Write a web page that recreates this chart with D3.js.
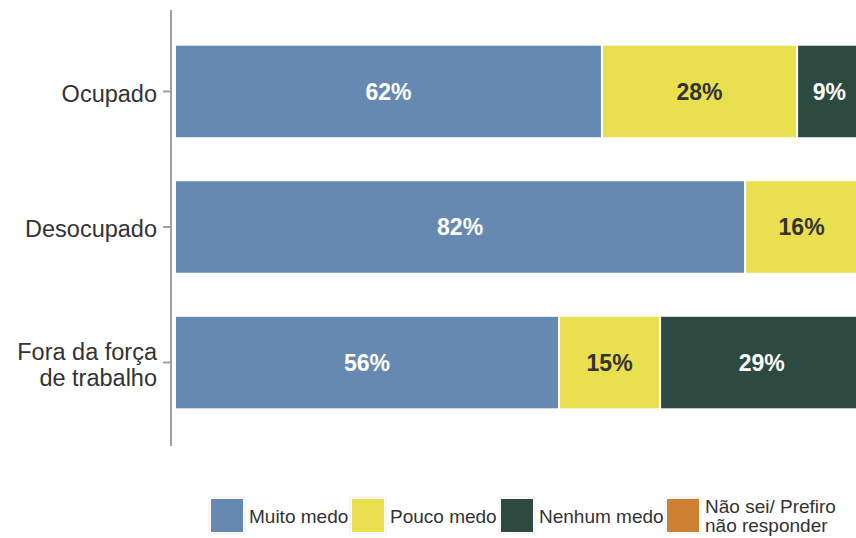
<!DOCTYPE html>
<html>
  <head>
    <meta charset="UTF-8">
    <title>Medo por condição de ocupação</title>
    <style>
      body { margin: 0; background: #fff; font-family: "Liberation Sans", Arial, sans-serif; }
      svg { display: block; }
    </style>
  </head>
  <body>
    <div id="chart"></div>
    <script src="https://d3js.org/d3.v7.min.js"></script>
    <script>

// categories (y axis)
var groups = ["Ocupado", "Desocupado", "Fora da força de trabalho"];
var groupLines = [["Ocupado"], ["Desocupado"], ["Fora da força", "de trabalho"]];

// answer series
var answers = ["Muito medo", "Pouco medo", "Nenhum medo", "Não sei/ Prefiro não responder"];
var answerLines = [["Muito medo"], ["Pouco medo"], ["Nenhum medo"], ["Não sei/ Prefiro", "não responder"]];
var colors = ["#6689b1", "#e9df4f", "#2c4a3f", "#cd7f32"];
var labelColors = ["#ffffff", "#333333", "#ffffff", "#ffffff"];

// shares in %, one array per answer, in the order of groups
var muitoMedo = [61.7, 82.4, 55.5];
var poucoMedo = [28.2, 16.3, 14.6];
var nenhumMedo = [9.3, 0.8, 29.4];
var naoSei = [0.8, 0.5, 0.5];

var series = [muitoMedo, poucoMedo, nenhumMedo, naoSei];

var width = 856, height = 538;

var svg = d3.select("#chart").append("svg")
  .attr("width", width)
  .attr("height", height);

var x = d3.scaleLinear().domain([0, 100]).range([175, 867]);
var y = d3.scaleBand().domain(groups).range([23, 431])
  .paddingInner(0.31).paddingOuter(0.16);

// build stacked rows
var rows = groups.map(function(g, i) {
  var row = { group: g };
  answers.forEach(function(a, j) { row[a] = series[j][i]; });
  return row;
});
var stacked = d3.stack().keys(answers)(rows);

var layer = svg.selectAll(".layer")
  .data(stacked)
  .enter().append("g")
  .attr("class", "layer")
  .attr("fill", function(d, i) { return colors[i]; });

layer.selectAll("rect")
  .data(function(d) { return d; })
  .enter().append("rect")
  .attr("x", function(d) { return x(d[0]); })
  .attr("y", function(d) { return y(d.data.group); })
  .attr("width", function(d) { return Math.max(0, x(d[1]) - x(d[0])); })
  .attr("height", y.bandwidth())
  .attr("stroke", "#fff")
  .attr("stroke-width", 2);

// value labels inside segments
layer.each(function(s, i) {
  d3.select(this).selectAll("text")
    .data(s.filter(function(d) { return d[1] - d[0] >= 3; }))
    .enter().append("text")
    .attr("x", function(d) { return (x(d[0]) + x(d[1])) / 2; })
    .attr("y", function(d) { return y(d.data.group) + y.bandwidth() / 2; })
    .attr("dy", "0.36em")
    .attr("text-anchor", "middle")
    .attr("fill", labelColors[i])
    .style("font-size", "23px")
    .style("font-weight", "bold")
    .text(function(d) { return Math.round(d[1] - d[0]) + "%"; });
});

// y axis
svg.append("line")
  .attr("x1", 171).attr("x2", 171)
  .attr("y1", 10).attr("y2", 446)
  .attr("stroke", "#a0a0a0").attr("stroke-width", 2);

var ticks = svg.selectAll(".tick")
  .data(groups)
  .enter().append("g")
  .attr("class", "tick")
  .attr("transform", function(d) { return "translate(0," + (y(d) + y.bandwidth() / 2) + ")"; });

ticks.append("line")
  .attr("x1", 163).attr("x2", 171)
  .attr("stroke", "#a0a0a0").attr("stroke-width", 2);

ticks.append("text")
  .attr("text-anchor", "end")
  .attr("fill", "#333")
  .style("font-size", "23.5px")
  .each(function(d, i) {
    var lines = groupLines[i];
    var t = d3.select(this);
    lines.forEach(function(l, k) {
      t.append("tspan")
        .attr("x", 157)
        .attr("y", (k - (lines.length - 1) / 2) * 26)
        .attr("dy", "0.43em")
        .text(l);
    });
  });

// legend
var legendX = [211, 352, 501, 667];
var legend = svg.selectAll(".key")
  .data(answers)
  .enter().append("g")
  .attr("class", "key")
  .attr("transform", function(d, i) { return "translate(" + legendX[i] + ",499)"; });

legend.append("rect")
  .attr("x", -2).attr("y", -2)
  .attr("width", 36).attr("height", 37)
  .attr("fill", "#fff")
  .attr("stroke", "#eeeeee");

legend.append("rect")
  .attr("width", 32).attr("height", 33)
  .attr("fill", function(d, i) { return colors[i]; });

legend.append("text")
  .attr("fill", "#333")
  .style("font-size", "19px")
  .each(function(d, i) {
    var lines = answerLines[i];
    var t = d3.select(this);
    lines.forEach(function(l, k) {
      t.append("tspan")
        .attr("x", 38)
        .attr("y", 17 + (k - (lines.length - 1) / 2) * 19)
        .attr("dy", "0.36em")
        .text(l);
    });
  });

    </script>
  </body>
</html>
